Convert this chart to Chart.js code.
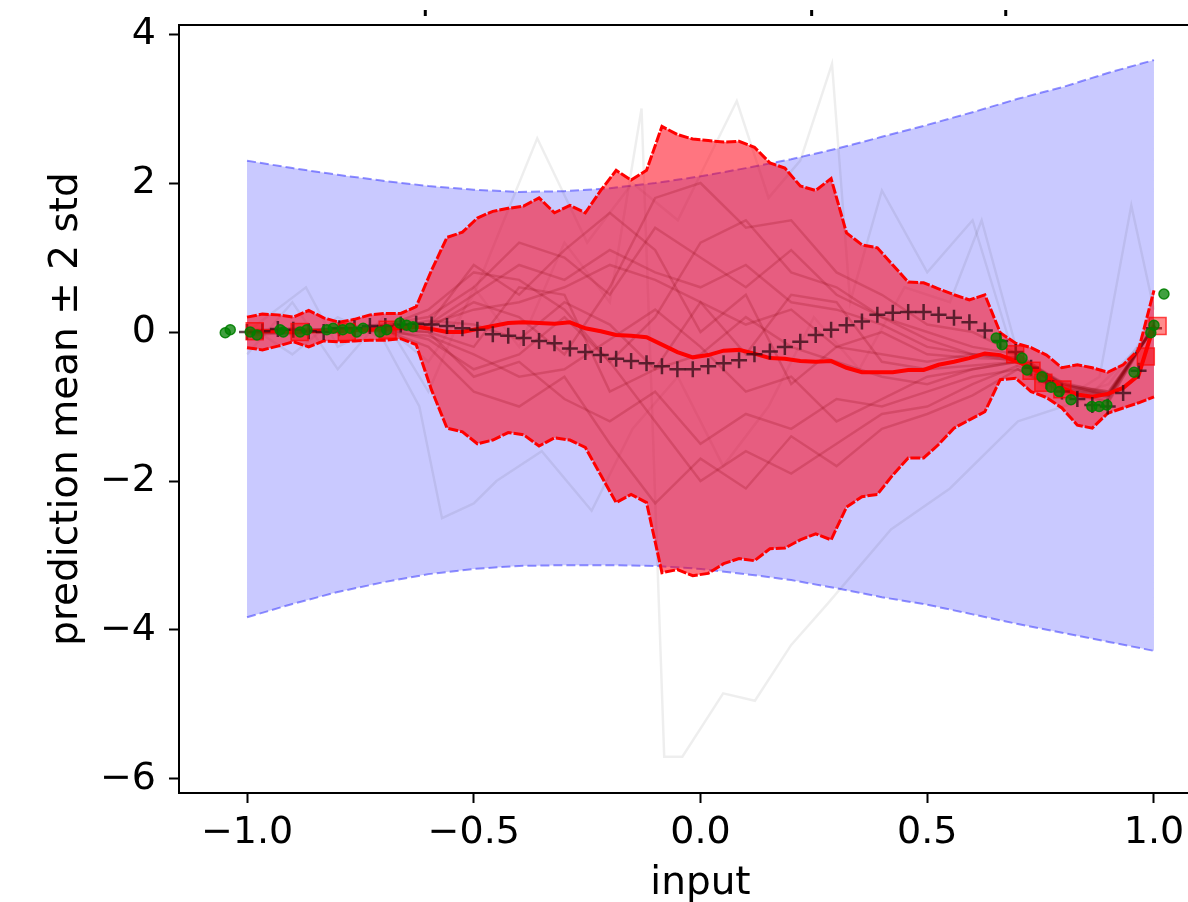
<!DOCTYPE html>
<html>
<head>
<meta charset="utf-8">
<script src="https://cdn.jsdelivr.net/npm/chart.js@4/dist/chart.umd.min.js"></script>
<style>
  html, body { margin: 0; padding: 0; background: #fff; overflow: hidden; }
  #wrap { width: 1240px; height: 920px; }
</style>
</head>
<body>
<div id="wrap"><canvas id="chart" width="1240" height="920"></canvas></div>
<script>
// test grid (60 points) - true function, posterior mean and +/- 2 std
var gridX = [-1.000,-0.966,-0.932,-0.898,-0.864,-0.831,-0.797,-0.763,-0.729,-0.695,
  -0.661,-0.627,-0.593,-0.559,-0.525,-0.492,-0.458,-0.424,-0.390,-0.356,
  -0.322,-0.288,-0.254,-0.220,-0.186,-0.153,-0.119,-0.085,-0.051,-0.017,
  0.017,0.051,0.085,0.119,0.153,0.186,0.220,0.254,0.288,0.322,
  0.356,0.390,0.424,0.458,0.492,0.525,0.559,0.593,0.627,0.661,
  0.695,0.729,0.763,0.797,0.831,0.864,0.898,0.932,0.966,1.000];
var trueY = [0.00,0.01,0.04,0.03,0.01,0.00,0.05,0.05,0.08,0.08,
  0.10,0.11,0.10,0.08,0.05,0.03,-0.03,-0.05,-0.08,-0.12,
  -0.15,-0.22,-0.27,-0.31,-0.36,-0.39,-0.42,-0.46,-0.50,-0.50,
  -0.46,-0.42,-0.38,-0.30,-0.26,-0.20,-0.13,-0.04,0.03,0.09,
  0.14,0.23,0.26,0.27,0.27,0.23,0.19,0.13,0.02,-0.12,
  -0.27,-0.48,-0.66,-0.80,-0.90,-0.98,-1.00,-0.82,-0.52,0.05];
var postMean = [0.00,0.01,0.01,0.00,0.01,0.01,0.01,0.03,0.03,0.04,
  0.05,0.07,0.04,0.00,0.00,0.04,0.08,0.12,0.13,0.12,
  0.11,0.13,0.05,0.01,-0.04,-0.05,-0.07,-0.17,-0.27,-0.34,
  -0.31,-0.25,-0.24,-0.29,-0.35,-0.36,-0.39,-0.40,-0.39,-0.48,
  -0.54,-0.54,-0.54,-0.51,-0.51,-0.44,-0.40,-0.35,-0.29,-0.31,
  -0.39,-0.47,-0.60,-0.75,-0.84,-0.87,-0.83,-0.75,-0.58,0.09];
var postUpper = [0.20,0.24,0.23,0.20,0.29,0.19,0.13,0.17,0.23,0.25,
  0.25,0.34,0.83,1.27,1.34,1.53,1.62,1.66,1.69,1.80,
  1.60,1.70,1.60,1.90,2.17,2.04,2.17,2.76,2.65,2.59,
  2.57,2.55,2.56,2.48,2.27,2.20,1.96,1.90,2.06,1.33,
  1.17,1.13,0.90,0.67,0.66,0.58,0.50,0.43,0.50,-0.01,
  -0.15,-0.21,-0.31,-0.48,-0.44,-0.48,-0.54,-0.44,-0.24,0.56];
var postLower = [-0.21,-0.24,-0.19,-0.13,-0.20,-0.12,-0.13,-0.12,-0.11,-0.11,
  -0.09,-0.17,-0.78,-1.29,-1.34,-1.50,-1.45,-1.35,-1.38,-1.53,
  -1.42,-1.45,-1.55,-1.92,-2.29,-2.18,-2.29,-3.23,-3.19,-3.27,
  -3.24,-3.11,-3.04,-3.07,-2.91,-2.90,-2.79,-2.71,-2.79,-2.35,
  -2.21,-2.18,-1.92,-1.69,-1.69,-1.51,-1.29,-1.18,-1.07,-0.64,
  -0.62,-0.80,-0.88,-1.02,-1.25,-1.29,-1.09,-1.02,-0.95,-0.87];

// prior band (21 points)
var priorX = [-1.0,-0.9,-0.8,-0.7,-0.6,-0.5,-0.4,-0.3,-0.2,-0.1,0.0,0.1,0.2,0.3,0.4,0.5,0.6,0.7,0.8,0.9,1.0];
var priorUpper = [2.30,2.20,2.11,2.03,1.96,1.91,1.88,1.89,1.93,2.00,2.09,2.20,2.32,2.46,2.62,2.78,2.95,3.13,3.29,3.48,3.65];
var priorLower = [-3.83,-3.65,-3.49,-3.36,-3.25,-3.18,-3.14,-3.13,-3.13,-3.14,-3.18,-3.25,-3.33,-3.44,-3.56,-3.66,-3.79,-3.92,-4.04,-4.16,-4.28];

// posterior samples on priorX
var samples = [
  [0.02,0.05,0.00,0.08,0.10,0.50,0.90,0.70,1.10,0.80,0.60,0.90,0.40,0.30,0.10,-0.20,-0.30,-0.35,-0.70,-0.85,0.05],
  [-0.05,0.00,0.05,0.02,0.00,-0.60,-0.40,-0.90,-1.20,-0.80,-1.50,-1.10,-1.30,-0.90,-1.00,-0.80,-0.60,-0.50,-0.80,-0.92,0.10],
  [0.00,-0.03,0.06,0.10,0.20,0.60,1.20,1.00,0.50,1.40,1.00,0.60,1.10,0.50,0.20,0.00,-0.20,-0.30,-0.72,-0.80,0.05],
  [0.03,0.02,0.00,0.05,-0.10,-0.50,-0.30,0.20,-0.40,-1.20,-2.00,-1.60,-1.90,-1.50,-1.10,-1.00,-0.70,-0.45,-0.78,-0.88,0.08],
  [-0.02,0.04,0.03,0.07,0.10,0.30,0.40,0.60,0.90,0.70,0.40,0.10,0.30,-0.20,-0.30,-0.40,-0.30,-0.40,-0.74,-0.84,0.10],
  [0.01,-0.02,0.02,0.00,-0.05,-0.30,-0.60,-0.50,-0.10,0.30,-0.20,-0.80,-0.60,-1.20,-0.90,-0.60,-0.50,-0.40,-0.70,-0.86,0.07],
  [0.00,0.02,0.04,0.06,0.30,0.80,0.70,0.30,-0.40,0.20,1.20,1.50,0.80,0.60,0.20,-0.10,-0.30,-0.35,-0.68,-0.82,0.06],
  [0.02,0.00,0.01,0.03,-0.20,-0.80,-1.00,-0.60,-1.50,-2.30,-1.70,-2.10,-1.40,-1.80,-1.30,-1.10,-0.85,-0.50,-0.82,-0.94,0.10],
  [-0.03,0.01,0.05,0.04,0.15,0.10,-0.10,0.40,0.10,-0.50,-0.30,0.20,-0.20,-0.40,-0.60,-0.70,-0.50,-0.40,-0.75,-0.85,0.08],
  [0.00,0.03,0.02,0.05,0.05,0.40,0.20,-0.30,0.60,1.80,2.00,1.40,1.50,0.80,0.50,0.10,0.00,-0.30,-0.70,-0.80,0.05],
  [0.01,0.00,0.04,0.06,0.00,-0.20,0.60,0.50,-0.80,-0.50,0.40,-0.30,0.50,0.40,-0.40,-0.50,-0.45,-0.40,-0.76,-0.87,0.09],
  [0.02,0.01,0.03,0.02,0.10,0.90,0.50,1.10,1.60,1.10,0.00,0.50,-0.70,-0.20,0.00,-0.30,-0.35,-0.37,-0.72,-0.83,0.07]
];

// faint wide samples
var faintAX = [-1.0,-0.9,-0.8,-0.7,-0.6,-0.5,-0.4,-0.3,-0.2,-0.13,-0.08,-0.04,0.05,0.12,0.2,0.28,0.42,0.55,0.7,0.85,1.0];
var faintAY = [-0.3,0.4,-0.5,0.2,-0.8,0.6,-0.2,1.2,0.4,3.0,-5.7,-5.7,-4.85,-4.95,-4.2,-3.65,-2.65,-2.1,-1.2,-0.9,0.0];
var faintBX = [-1.0,-0.87,-0.8,-0.7,-0.6,-0.5,-0.36,-0.25,-0.15,-0.05,0.08,0.15,0.22,0.29,0.33,0.4,0.5,0.6,0.7,0.8,0.9,1.0];
var faintBY = [0.0,0.6,-0.2,0.1,-0.4,0.5,2.6,1.2,2.0,1.5,3.1,1.8,2.3,3.6,0.4,1.9,0.8,1.5,-0.5,-0.9,-0.7,0.1];
var faintCX = [-1.0,-0.9,-0.8,-0.7,-0.62,-0.57,-0.5,-0.45,-0.35,-0.24,-0.15,-0.05,0.05,0.15,0.25,0.35,0.45,0.55,0.62,0.7,0.8,0.88,0.95,1.0];
var faintCY = [0.1,-0.3,0.2,-0.1,-1.0,-2.5,-2.3,-2.0,-1.6,-2.4,-1.3,-0.6,-1.8,-1.0,0.2,-0.5,0.6,0.4,1.5,-0.3,-0.9,-0.6,1.7,0.3];

// training points
var trainX = [-1.048,-1.037,-0.993,-0.978,-0.927,-0.920,-0.883,-0.868,-0.824,-0.810,-0.789,-0.773,-0.758,-0.744,-0.707,-0.692,-0.663,-0.648,-0.634,
  0.652,0.665,0.709,0.720,0.753,0.773,0.791,0.817,0.863,0.879,0.896,0.956,0.993,1.000,1.022];
var trainY = [-0.01,0.03,0.00,-0.04,0.03,0.00,0.00,0.03,0.03,0.05,0.03,0.05,0.00,0.05,0.00,0.03,0.12,0.09,0.07,
  -0.08,-0.17,-0.35,-0.51,-0.60,-0.74,-0.80,-0.91,-1.00,-1.00,-0.98,-0.54,-0.01,0.09,0.51];

// red square markers
var squareX = [-0.983,-0.884,-0.780,-0.690,0.694,0.730,0.756,0.798,0.982,1.008];
var squareY = [0.01,0.00,0.00,0.03,-0.30,-0.52,-0.68,-0.77,-0.33,0.08];

var xTicks = [-1.0,-0.5,0.0,0.5,1.0];
var yTicks = [-6,-4,-2,0,2,4];
var topMarksX = [-0.608,0.244,0.672];

function pts(xs, ys) {
  return xs.map(function (x, i) { return {x: x, y: ys[i]}; });
}
function minus(s) { return String(s).replace('-', '\u2212'); }

Chart.defaults.font.family = 'DejaVu Sans';
Chart.defaults.color = '#000';

var datasets = [];
datasets.push({data: pts(priorX, priorUpper), borderColor: 'rgba(70,70,255,0.6)', borderWidth: 2, borderDash: [9, 4],
  backgroundColor: 'rgba(0,0,255,0.21)', fill: '+1', pointRadius: 0});
datasets.push({data: pts(priorX, priorLower), borderColor: 'rgba(70,70,255,0.6)', borderWidth: 2, borderDash: [9, 4],
  fill: false, pointRadius: 0});
[[faintAX, faintAY], [faintBX, faintBY], [faintCX, faintCY]].forEach(function (f) {
  datasets.push({data: pts(f[0], f[1]), borderColor: 'rgba(0,0,0,0.065)', borderWidth: 2.5, fill: false, pointRadius: 0});
});
samples.forEach(function (s) {
  datasets.push({data: pts(priorX, s), borderColor: 'rgba(0,0,0,0.2)', borderWidth: 2.5, fill: false, pointRadius: 0});
});
datasets.push({data: pts(gridX, postUpper), borderColor: 'rgb(255,0,0)', borderWidth: 3, borderDash: [10, 2],
  backgroundColor: 'rgba(255,0,20,0.54)', fill: '+1', pointRadius: 0});
datasets.push({data: pts(gridX, postLower), borderColor: 'rgb(255,0,0)', borderWidth: 3, borderDash: [10, 2],
  fill: false, pointRadius: 0});
datasets.push({data: pts(gridX, postMean), borderColor: 'rgb(255,0,0)', borderWidth: 4, fill: false, pointRadius: 0});
datasets.push({data: pts(gridX, trueY), showLine: false, pointStyle: 'cross', pointRadius: 8,
  borderColor: 'rgba(45,10,20,0.75)', pointBorderWidth: 2.5, backgroundColor: 'transparent'});
datasets.push({data: pts(squareX, squareY), showLine: false, pointStyle: 'rect', pointRadius: 12,
  borderColor: 'rgba(255,0,0,0.7)', pointBorderWidth: 1.5, backgroundColor: 'rgba(255,0,0,0.45)'});
datasets.push({data: pts(trainX, trainY), showLine: false, pointStyle: 'circle', pointRadius: 5,
  borderColor: 'rgba(0,128,0,0.9)', pointBorderWidth: 1.5, backgroundColor: 'rgba(0,128,0,0.75)'});

// later entries on top
datasets.forEach(function (d, i) { d.order = datasets.length - i; d.tension = 0; });

var frame = {
  id: 'frame',
  afterDraw: function (chart) {
    var ctx = chart.ctx, a = chart.chartArea, xs = chart.scales.x;
    ctx.save();
    ctx.strokeStyle = '#000';
    ctx.lineWidth = 2;
    ctx.beginPath();
    ctx.moveTo(a.left, a.top);
    ctx.lineTo(a.right, a.top);
    ctx.stroke();
    ctx.fillStyle = '#000';
    topMarksX.forEach(function (v) {
      var px = xs.getPixelForValue(v);
      ctx.fillRect(px - 1, a.top - 15, 3, 6);
    });
    ctx.restore();
  }
};

new Chart(document.getElementById('chart').getContext('2d'), {
  type: 'line',
  data: {datasets: datasets},
  options: {
    responsive: false,
    animation: false,
    layout: {padding: {top: 25, right: 18, left: 0, bottom: 0}},
    plugins: {legend: {display: false}, tooltip: {enabled: false}},
    scales: {
      x: {
        type: 'linear', min: -1.15, max: 1.15,
        afterBuildTicks: function (s) { s.ticks = xTicks.map(function (v) { return {value: v}; }); },
        afterFit: function (s) { s.height = 127; },
        ticks: {callback: function (v) { return minus(v.toFixed(1)); }, font: {size: 38}, padding: 7, maxRotation: 0, autoSkip: false},
        grid: {drawOnChartArea: false, drawTicks: true, tickLength: 10, tickWidth: 2, tickColor: '#000'},
        border: {display: true, color: '#000', width: 2},
        title: {display: true, text: 'input', font: {size: 39}, padding: {top: 0, bottom: 13}}
      },
      y: {
        type: 'linear', min: -6.188, max: 4.121,
        afterBuildTicks: function (s) { s.ticks = yTicks.map(function (v) { return {value: v}; }); },
        afterFit: function (s) { s.width = 179; },
        ticks: {callback: function (v) { return minus(v); }, font: {size: 38, lineHeight: 0.6}, padding: 13, autoSkip: false},
        grid: {drawOnChartArea: false, drawTicks: true, tickLength: 10, tickWidth: 2, tickColor: '#000'},
        border: {display: true, color: '#000', width: 2},
        title: {display: true, text: 'prediction mean \u00b1 2 std', font: {size: 39}, padding: {top: 43, bottom: 0}}
      }
    }
  },
  plugins: [frame]
});
</script>
</body>
</html>
